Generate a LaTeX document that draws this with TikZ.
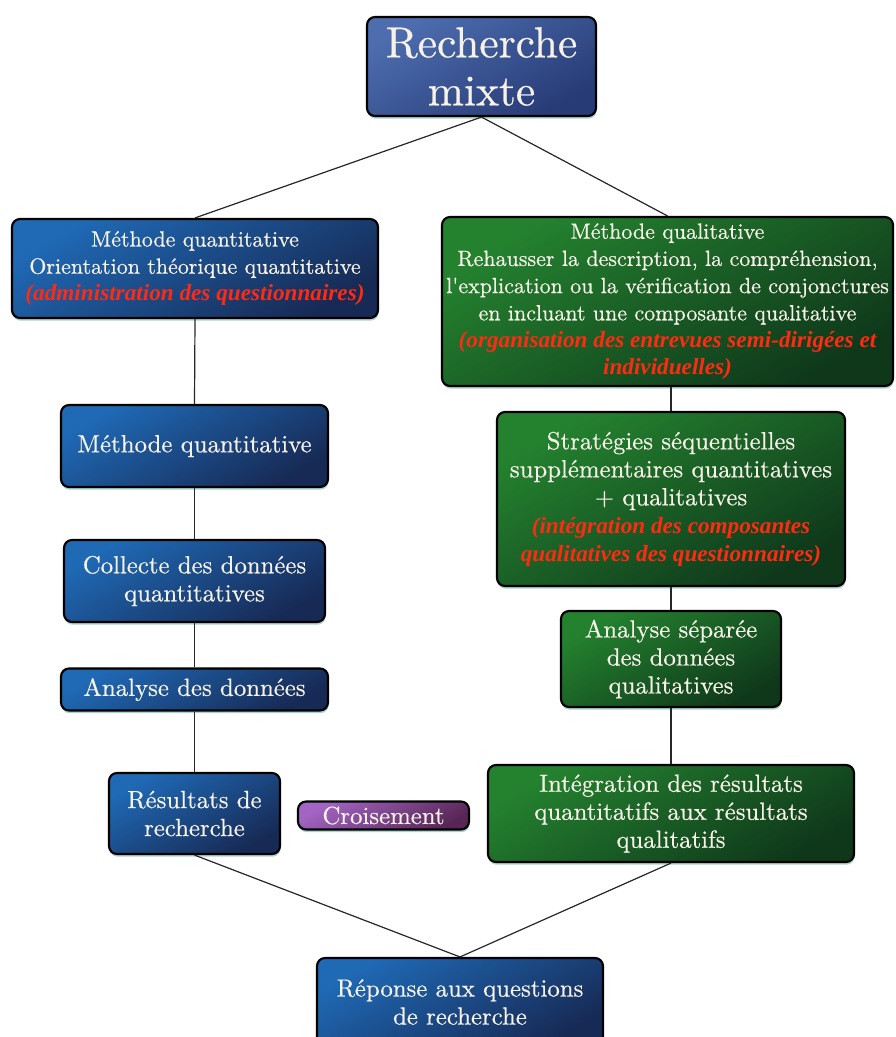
\documentclass[tikz,border=0pt]{standalone}
\usepackage{fontspec}
\usetikzlibrary{shadows,calc}

% slightly emboldened serif for the box labels, bold italic serif for the red remarks
\newfontfamily\boxfont{lmroman10-regular.otf}[FakeBold=0.5]
\newfontfamily\remarkfont{Liberation Serif}

\definecolor{txt}{HTML}{F7F2E8}
\definecolor{redtxt}{HTML}{FF2A12}
\definecolor{blueA}{HTML}{1F69B5}
\definecolor{blueB}{HTML}{172A55}
\definecolor{greenA}{HTML}{24822F}
\definecolor{greenB}{HTML}{0F381B}
\definecolor{topA}{HTML}{4D6DAF}
\definecolor{topB}{HTML}{273B76}
\definecolor{purA}{HTML}{A365C4}
\definecolor{purB}{HTML}{582655}
\definecolor{glow}{HTML}{8CC4BE}

\newcommand{\remark}[1]{{\remarkfont\fontsize{17.4}{20}\selectfont\color{redtxt}\bfseries\itshape #1}}

\tikzset{
  x=0.75pt, y=-0.75pt,
  card/.style={draw=black, line width=1.6pt, rounded corners=6pt,
    align=center, text=txt, inner sep=0pt,
    drop shadow={shadow xshift=0.4pt, shadow yshift=-2pt, fill=glow, opacity=0.75}},
  bluecard/.style={card, top color=blueA, bottom color=blueB, shading angle=30},
  greencard/.style={card, top color=greenA, bottom color=greenB, shading angle=30},
  titlecard/.style={card, top color=topA, bottom color=topB, shading angle=30},
  purplecard/.style={card, top color=purA, bottom color=purB, shading angle=30},
  sz/.style 2 args={minimum width=#1*0.75pt, minimum height=#2*0.75pt},
  bigtext/.style={font=\boxfont\fontsize{18.6}{21}\selectfont},
  smalltext/.style={font=\boxfont\fontsize{16.5}{20.4}\selectfont},
  link/.style={draw=black!85, line width=0.9pt},
}

\begin{document}
\begin{tikzpicture}
  \useasboundingbox (0,0) rectangle (895,1037);

  % title
  \node[titlecard, sz={229}{99}, font=\boxfont\fontsize{32.6}{36}\selectfont] (top) at (481.5,66.5) {Recherche\\mixte};

  % quantitative column
  \node[bluecard, sz={366}{99}, smalltext] (q1) at (195,268.5)
    {Méthode quantitative\\Orientation théorique quantitative\\\remark{(administration des questionnaires)}};
  \node[bluecard, sz={267}{82}, bigtext] (q2) at (194.5,446) {Méthode quantitative};
  \node[bluecard, sz={261}{82}, bigtext] (q3) at (194.5,581) {Collecte des données\\quantitatives};
  \node[bluecard, sz={267}{42}, bigtext] (q4) at (194.5,689.5) {Analyse des données};
  \node[bluecard, sz={171}{81}, bigtext] (q5) at (194.5,813.5) {Résultats de\\recherche};

  % qualitative column
  \node[greencard, sz={451}{169}, smalltext] (l1) at (667.5,301.5)
    {Méthode qualitative\\Rehausser la description, la compréhension,\\l'explication ou la vérification de conjonctures\\en incluant une composante qualitative\\\remark{(organisation des entrevues semi-dirigées et}\\\remark{individuelles)}};
  \node[greencard, sz={348}{174}, bigtext] (l2) at (671,499)
    {Stratégies séquentielles\\supplémentaires quantitatives\\+ qualitatives\\\remark{(intégration des composantes}\\\remark{qualitatives des questionnaires)}};
  \node[greencard, sz={220}{96}, bigtext] (l3) at (671,659) {Analyse séparée\\des données\\qualitatives};
  \node[greencard, sz={366}{97}, bigtext] (l4) at (671,813.5)
    {Intégration des résultats\\quantitatifs aux résultats\\qualitatifs};

  % crossing label
  \node[purplecard, sz={171}{28}, bigtext] (cross) at (383.5,815.5) {Croisement};

  % answer
  \node[bluecard, sz={286}{88}, bigtext] (ans) at (460,1002) {Réponse aux questions\\de recherche};

  % connectors
  \draw[link] (top.south) -- (q1.north);
  \draw[link] (top.south) -- (l1.north);
  \draw[link] (q1.south) -- (q2.north);
  \draw[link] (q2.south) -- (q3.north);
  \draw[link] (q3.south) -- (q4.north);
  \draw[link] (q4.south) -- (q5.north);
  \draw[link] (l2.north) -- (l2.north |- l1.south);
  \draw[link] (l2.south) -- (l3.north);
  \draw[link] (l3.south) -- (l4.north);
  \draw[link] (q5.south) -- (ans.north);
  \draw[link] (l4.south) -- (ans.north);
\end{tikzpicture}
\end{document}
